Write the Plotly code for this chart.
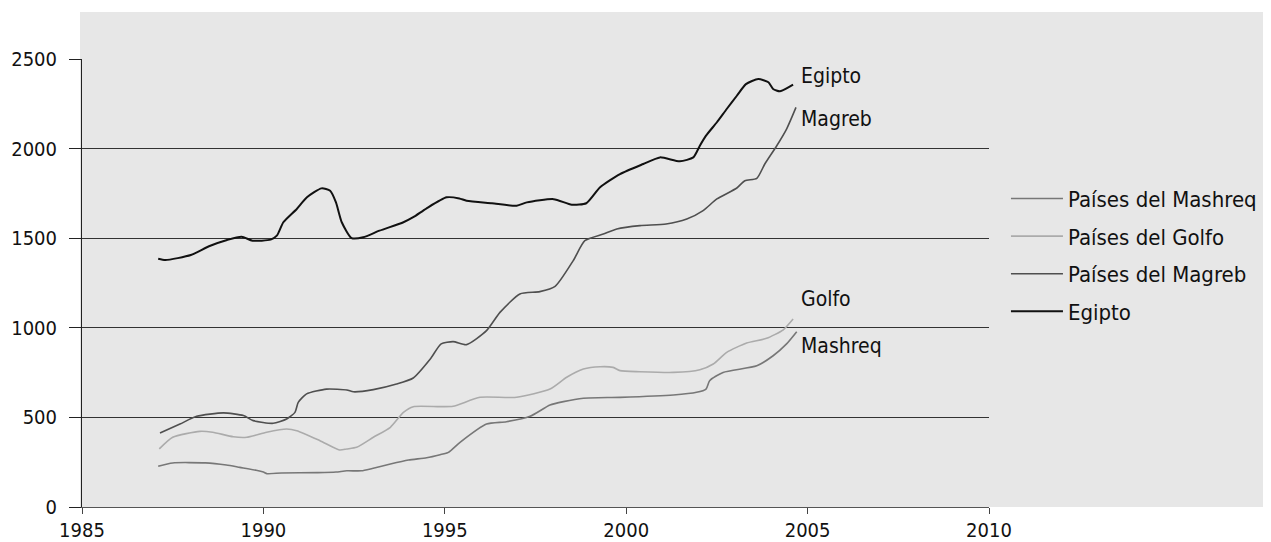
import plotly.graph_objects as go

# ---- data ----
egipto_x = [1987.1, 1987.3, 1988.0, 1988.5, 1989.0, 1989.4, 1989.7, 1990.2, 1990.37, 1990.55,
            1990.92, 1991.2, 1991.6, 1991.84, 1992.0, 1992.16, 1992.43, 1992.75, 1993.2, 1993.86,
            1994.13, 1994.5, 1995.05, 1995.4, 1995.6, 1996.3, 1996.98, 1997.26, 1998.0, 1998.5,
            1998.9, 1999.28, 1999.83, 2000.47, 2000.93, 2001.48, 2001.85, 2002.03, 2002.2, 2002.5,
            2002.77, 2003.05, 2003.3, 2003.64, 2003.92, 2004.05, 2004.24, 2004.6]
egipto_y = [1385, 1378, 1406, 1455, 1490, 1508, 1486, 1492, 1514, 1589,
            1663, 1728, 1778, 1765, 1700, 1589, 1501, 1505, 1542, 1589,
            1617, 1667, 1728, 1722, 1709, 1695, 1681, 1700, 1718, 1687,
            1695, 1784, 1858, 1914, 1951, 1929, 1951, 2016, 2072, 2147,
            2221, 2295, 2360, 2388, 2370, 2333, 2320, 2357]

magreb_x = [1987.15, 1987.7, 1988.16, 1988.9, 1989.45, 1989.72, 1990.27, 1990.64, 1990.87, 1990.96,
            1991.19, 1991.74, 1992.3, 1992.48, 1993.03, 1993.67, 1994.13, 1994.6, 1994.9, 1995.23,
            1995.6, 1996.15, 1996.52, 1997.07, 1997.62, 1998.04, 1998.54, 1998.86, 1999.37, 1999.74,
            2000.38, 2001.1, 2001.67, 2002.12, 2002.5, 2003.05, 2003.27, 2003.6, 2003.82, 2004.15,
            2004.42, 2004.68]
magreb_y = [413, 463, 506, 525, 510, 482, 467, 491, 528, 584,
            631, 658, 653, 643, 655, 686, 720, 826, 910, 923,
            906, 984, 1086, 1189, 1202, 1231, 1375, 1486, 1523, 1551,
            1570, 1579, 1607, 1654, 1719, 1780, 1821, 1834, 1914, 2016,
            2109, 2230]

golfo_x = [1987.13, 1987.5, 1988.25, 1988.6, 1989.17, 1989.54, 1990.09, 1990.64, 1990.92, 1991.56,
           1992.1, 1992.3, 1992.57, 1993.03, 1993.5, 1993.86, 1994.13, 1994.87, 1995.23, 1995.97,
           1996.98, 1997.9, 1998.36, 1998.82, 1999.28, 1999.64, 1999.83, 2000.38, 2001.3, 2002.03,
           2002.4, 2002.77, 2003.32, 2003.87, 2004.33, 2004.6]
golfo_y = [324, 389, 422, 417, 392, 389, 417, 435, 426, 370,
           318, 324, 333, 389, 445, 528, 560, 560, 562, 612,
           612, 658, 724, 770, 783, 779, 761, 755, 751, 766,
           798, 863, 915, 941, 989, 1049]

mashreq_x = [1987.1, 1987.5, 1988.4, 1988.98, 1989.35, 1989.8, 1990.0, 1990.1, 1990.5, 1991.5,
             1992.0, 1992.3, 1992.7, 1993.0, 1993.5, 1994.0, 1994.5, 1994.87, 1995.1, 1995.42,
             1996.15, 1996.7, 1997.35, 1997.9, 1998.27, 1998.82, 1999.83, 2001.3, 2001.94, 2002.2,
             2002.3, 2002.67, 2003.6, 2004.05, 2004.42, 2004.7]
mashreq_y = [227, 246, 246, 234, 221, 205, 195, 186, 190, 192,
             195, 202, 202, 215, 240, 262, 275, 292, 305, 361,
             463, 476, 506, 569, 588, 607, 612, 625, 640, 658,
             705, 751, 788, 844, 910, 978]

legend_names = ["Países del Mashreq", "Países del Golfo", "Países del Magreb", "Egipto"]
end_labels = ["Mashreq", "Golfo", "Magreb", "Egipto"]
end_label_y = [898, 1160, 2165, 2405]
end_label_x = 2004.75

x_ticks = [1985, 1990, 1995, 2000, 2005, 2010]
y_ticks = [0, 500, 1000, 1500, 2000, 2500]

FONT = "DejaVu Sans Condensed, Liberation Sans Narrow, sans-serif"
BG = "#e7e7e7"

series = [
    (mashreq_x, mashreq_y, "#777777", 1.6),
    (golfo_x, golfo_y, "#ababab", 1.6),
    (magreb_x, magreb_y, "#4f4f4f", 1.6),
    (egipto_x, egipto_y, "#111111", 2.0),
]

fig = go.Figure()
for i, (xs, ys, col, w) in enumerate(series):
    fig.add_trace(go.Scatter(
        x=xs, y=ys, mode="lines", name=legend_names[i],
        line=dict(color=col, width=w, shape="spline", smoothing=0.6),
        legendgroup=legend_names[i], hoverinfo="skip",
    ))

for lab, yv in zip(end_labels, end_label_y):
    fig.add_annotation(x=end_label_x, y=yv, text=lab, showarrow=False,
                       xanchor="left", yanchor="middle",
                       font=dict(family=FONT, size=21, color="#111"))

# grey panel extending beyond the plot area (as in the reference)
fig.add_shape(type="rect", xref="paper", yref="paper",
              x0=-0.0022, x1=1.32, y0=0, y1=1.105,
              fillcolor=BG, line=dict(width=0), layer="below")

fig.update_layout(
    width=1263, height=534,
    margin=dict(l=74, r=282, t=51, b=35, autoexpand=False),
    paper_bgcolor="white", plot_bgcolor=BG,
    font=dict(family=FONT, size=20, color="#111"),
    showlegend=True,
    legend=dict(x=1.0187, xanchor="left", y=0.735, yanchor="top",
                bgcolor="rgba(0,0,0,0)", font=dict(family=FONT, size=22, color="#111"),
                traceorder="grouped", tracegroupgap=6, itemwidth=52),
    xaxis=dict(range=[1985, 2010], tickvals=x_ticks, ticks="outside", ticklen=6,
               tickcolor="#444", showgrid=False, showline=True, linecolor="#555",
               linewidth=1, zeroline=False, automargin=False, ticklabelstandoff=-1,
               tickfont=dict(family=FONT, size=20, color="#111")),
    yaxis=dict(range=[0, 2500], tickvals=y_ticks, ticks="outside", ticklen=12,
               tickcolor="#222", showgrid=True, gridcolor="#333", gridwidth=1,
               showline=True, linecolor="#222", linewidth=1, zeroline=False,
               automargin=False, ticklabelstandoff=8,
               tickfont=dict(family=FONT, size=20, color="#111")),
)

fig.write_html("out.html")
